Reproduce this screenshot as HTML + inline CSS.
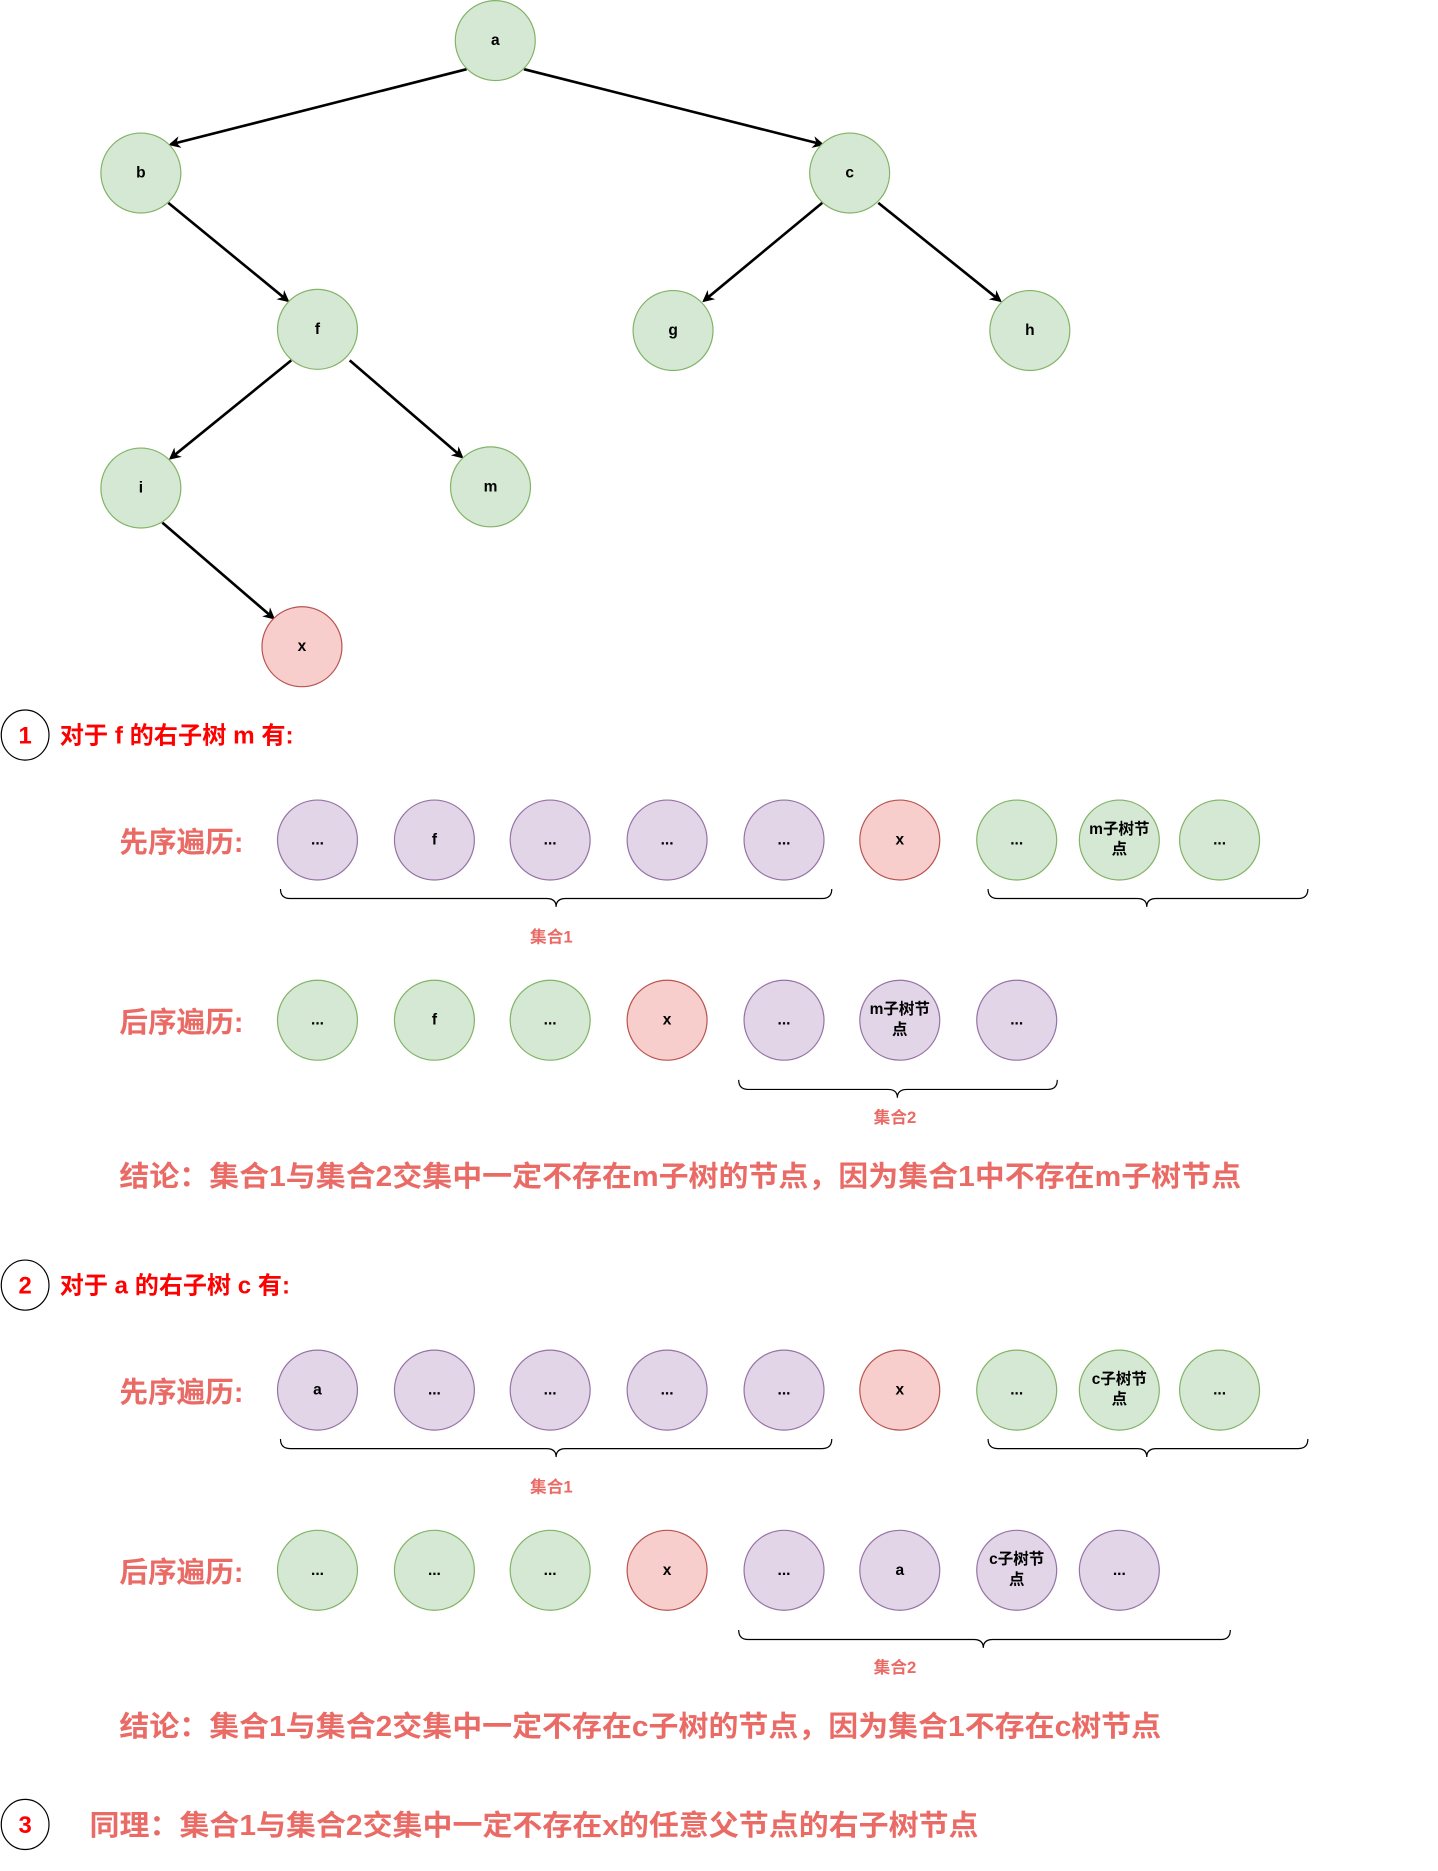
<!DOCTYPE html>
<html><head><meta charset="utf-8"><style>
html,body{margin:0;padding:0;background:#fff;}
svg{display:block;}
text{font-family:"Liberation Sans","Noto Sans CJK SC",sans-serif;}
.n{font-size:13px;font-weight:bold;fill:#000;text-anchor:middle;dominant-baseline:central;}
.h{font-size:24px;font-weight:bold;fill:#EA6B66;}
.t{font-size:20px;font-weight:bold;fill:#FF0000;}
.s{font-size:14px;font-weight:bold;fill:#EA6B66;text-anchor:middle;}
.g{fill:#d5e8d4;stroke:#82b366;}
.p{fill:#e1d5e7;stroke:#9673a6;}
.r{fill:#f8cecc;stroke:#b85450;}
.e{stroke:#000;stroke-width:2.2;fill:none;marker-end:url(#ar);}
.b{stroke:#000;stroke-width:1;fill:none;}
</style></head><body>
<svg width="1438" height="1871" viewBox="0 0 1205 1568" xmlns="http://www.w3.org/2000/svg">
<defs><marker id="ar" markerWidth="10" markerHeight="10" refX="8" refY="5" orient="auto" markerUnits="userSpaceOnUse"><path d="M0,0 L10,5 L0,10 L3,5 Z" fill="#000"/></marker></defs>
<line class="e" x1="391" y1="58" x2="143" y2="121"/>
<line class="e" x1="439" y1="58" x2="689" y2="121"/>
<line class="e" x1="141" y1="170" x2="241" y2="252"/>
<line class="e" x1="689" y1="170" x2="590" y2="252"/>
<line class="e" x1="736" y1="170" x2="838" y2="252"/>
<line class="e" x1="244" y1="302" x2="143" y2="384"/>
<line class="e" x1="293" y1="302" x2="387" y2="383"/>
<line class="e" x1="136" y1="438" x2="229" y2="518"/>
<g>
<circle class="g" cx="415" cy="34" r="33.5"/><text class="n" x="415" y="34">a</text>
<circle class="g" cx="118" cy="145" r="33.5"/><text class="n" x="118" y="145">b</text>
<circle class="g" cx="712" cy="145" r="33.5"/><text class="n" x="712" y="145">c</text>
<circle class="g" cx="266" cy="276" r="33.5"/><text class="n" x="266" y="276">f</text>
<circle class="g" cx="564" cy="277" r="33.5"/><text class="n" x="564" y="277">g</text>
<circle class="g" cx="863" cy="277" r="33.5"/><text class="n" x="863" y="277">h</text>
<circle class="g" cx="118" cy="409" r="33.5"/><text class="n" x="118" y="409">i</text>
<circle class="g" cx="411" cy="408" r="33.5"/><text class="n" x="411" y="408">m</text>
<circle class="r" cx="253" cy="542" r="33.5"/><text class="n" x="253" y="542">x</text>
</g>

<ellipse cx="21" cy="616" rx="20" ry="21" fill="none" stroke="#000"/>
<text class="t" x="21" y="623" text-anchor="middle">1</text>
<text class="t" x="50" y="623" textLength="196" lengthAdjust="spacingAndGlyphs">对于 f 的右子树 m 有:</text>
<text class="h" x="100" y="714">先序遍历:</text>
<circle class="p" cx="266" cy="704" r="33.5"/><text class="n" x="266" y="704">...</text>
<circle class="p" cx="364" cy="704" r="33.5"/><text class="n" x="364" y="704">f</text>
<circle class="p" cx="461" cy="704" r="33.5"/><text class="n" x="461" y="704">...</text>
<circle class="p" cx="559" cy="704" r="33.5"/><text class="n" x="559" y="704">...</text>
<circle class="p" cx="657" cy="704" r="33.5"/><text class="n" x="657" y="704">...</text>
<circle class="r" cx="754" cy="704" r="33.5"/><text class="n" x="754" y="704">x</text>
<circle class="g" cx="852" cy="704" r="33.5"/><text class="n" x="852" y="704">...</text>
<circle class="g" cx="938" cy="704" r="33.5"/><text class="n" x="938" y="695">m子树节</text><text class="n" x="938" y="712">点</text>
<circle class="g" cx="1022" cy="704" r="33.5"/><text class="n" x="1022" y="704">...</text>
<path class="b" d="M235,745 Q235,753 243,753 L458,753 Q466,753 466,760 Q466,753 474,753 L689,753 Q697,753 697,745"/>
<path class="b" d="M828,745 Q828,753 836,753 L953,753 Q961,753 961,760 Q961,753 969,753 L1088,753 Q1096,753 1096,745"/>
<text class="s" x="462" y="790">集合1</text>

<text class="h" x="100" y="865">后序遍历:</text>
<circle class="g" cx="266" cy="855" r="33.5"/><text class="n" x="266" y="855">...</text>
<circle class="g" cx="364" cy="855" r="33.5"/><text class="n" x="364" y="855">f</text>
<circle class="g" cx="461" cy="855" r="33.5"/><text class="n" x="461" y="855">...</text>
<circle class="r" cx="559" cy="855" r="33.5"/><text class="n" x="559" y="855">x</text>
<circle class="p" cx="657" cy="855" r="33.5"/><text class="n" x="657" y="855">...</text>
<circle class="p" cx="754" cy="855" r="33.5"/><text class="n" x="754" y="846">m子树节</text><text class="n" x="754" y="863">点</text>
<circle class="p" cx="852" cy="855" r="33.5"/><text class="n" x="852" y="855">...</text>
<path class="b" d="M619,905 Q619,913 627,913 L744,913 Q752,913 752,920 Q752,913 760,913 L878,913 Q886,913 886,905"/>
<text class="s" x="750" y="941">集合2</text>
<text class="h" x="100" y="994" textLength="940" lengthAdjust="spacingAndGlyphs">结论：集合1与集合2交集中一定不存在m子树的节点，因为集合1中不存在m子树节点</text>

<ellipse cx="21" cy="1077" rx="20" ry="21" fill="none" stroke="#000"/>
<text class="t" x="21" y="1084" text-anchor="middle">2</text>
<text class="t" x="50" y="1084" textLength="193" lengthAdjust="spacingAndGlyphs">对于 a 的右子树 c 有:</text>
<text class="h" x="100" y="1175">先序遍历:</text>
<circle class="p" cx="266" cy="1165" r="33.5"/><text class="n" x="266" y="1165">a</text>
<circle class="p" cx="364" cy="1165" r="33.5"/><text class="n" x="364" y="1165">...</text>
<circle class="p" cx="461" cy="1165" r="33.5"/><text class="n" x="461" y="1165">...</text>
<circle class="p" cx="559" cy="1165" r="33.5"/><text class="n" x="559" y="1165">...</text>
<circle class="p" cx="657" cy="1165" r="33.5"/><text class="n" x="657" y="1165">...</text>
<circle class="r" cx="754" cy="1165" r="33.5"/><text class="n" x="754" y="1165">x</text>
<circle class="g" cx="852" cy="1165" r="33.5"/><text class="n" x="852" y="1165">...</text>
<circle class="g" cx="938" cy="1165" r="33.5"/><text class="n" x="938" y="1156">c子树节</text><text class="n" x="938" y="1173">点</text>
<circle class="g" cx="1022" cy="1165" r="33.5"/><text class="n" x="1022" y="1165">...</text>
<path class="b" d="M235,1206 Q235,1214 243,1214 L458,1214 Q466,1214 466,1221 Q466,1214 474,1214 L689,1214 Q697,1214 697,1206"/>
<path class="b" d="M828,1206 Q828,1214 836,1214 L953,1214 Q961,1214 961,1221 Q961,1214 969,1214 L1088,1214 Q1096,1214 1096,1206"/>
<text class="s" x="462" y="1251">集合1</text>

<text class="h" x="100" y="1326">后序遍历:</text>
<circle class="g" cx="266" cy="1316" r="33.5"/><text class="n" x="266" y="1316">...</text>
<circle class="g" cx="364" cy="1316" r="33.5"/><text class="n" x="364" y="1316">...</text>
<circle class="g" cx="461" cy="1316" r="33.5"/><text class="n" x="461" y="1316">...</text>
<circle class="r" cx="559" cy="1316" r="33.5"/><text class="n" x="559" y="1316">x</text>
<circle class="p" cx="657" cy="1316" r="33.5"/><text class="n" x="657" y="1316">...</text>
<circle class="p" cx="754" cy="1316" r="33.5"/><text class="n" x="754" y="1316">a</text>
<circle class="p" cx="852" cy="1316" r="33.5"/><text class="n" x="852" y="1307">c子树节</text><text class="n" x="852" y="1324">点</text>
<circle class="p" cx="938" cy="1316" r="33.5"/><text class="n" x="938" y="1316">...</text>
<path class="b" d="M619,1366 Q619,1374 627,1374 L816,1374 Q824,1374 824,1381 Q824,1374 832,1374 L1023,1374 Q1031,1374 1031,1366"/>
<text class="s" x="750" y="1402">集合2</text>
<text class="h" x="100" y="1455" textLength="873" lengthAdjust="spacingAndGlyphs">结论：集合1与集合2交集中一定不存在c子树的节点，因为集合1不存在c树节点</text>

<ellipse cx="21" cy="1529" rx="20" ry="21" fill="none" stroke="#000"/>
<text class="t" x="21" y="1536" text-anchor="middle">3</text>
<text class="h" x="75" y="1538" textLength="745" lengthAdjust="spacingAndGlyphs">同理：集合1与集合2交集中一定不存在x的任意父节点的右子树节点</text>
</svg>
</body></html>
